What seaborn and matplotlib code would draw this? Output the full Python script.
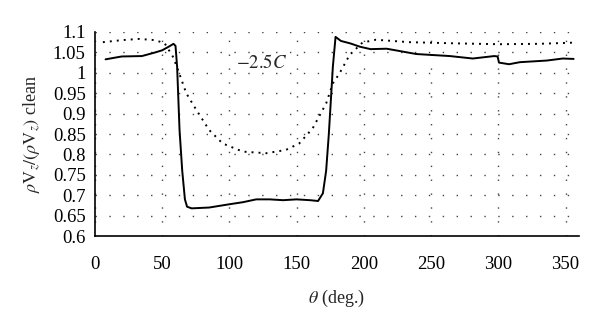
import matplotlib
matplotlib.use("Agg")
import matplotlib.pyplot as plt
import seaborn as sns
import pandas as pd

# Solid curve: normalised mass flux behind the -2.5C rotor configuration
theta_solid = [8, 20, 35, 45, 50, 55, 58.5, 60, 61.2, 63, 65, 67, 68.6, 72, 85,
               100, 110, 120, 130, 140, 150, 160, 166, 169.6, 172, 174, 177,
               179, 183, 190, 197, 205, 217, 239, 264, 281, 297, 299.5, 300.5,
               308, 316, 336, 348, 356]
value_solid = [1.033, 1.040, 1.041, 1.050, 1.055, 1.064, 1.071, 1.066, 1.015,
               0.86, 0.76, 0.69, 0.672, 0.668, 0.670, 0.678, 0.683, 0.690, 0.690,
               0.688, 0.690, 0.688, 0.686, 0.705, 0.76, 0.85, 1.015, 1.088, 1.078,
               1.072, 1.064, 1.058, 1.059, 1.046, 1.041, 1.035, 1.041, 1.040,
               1.025, 1.021, 1.026, 1.030, 1.035, 1.034]

# Dotted curve: clean-configuration reference profile
theta_dot = [6, 20, 33, 45, 52, 58, 61, 68, 75.5, 85, 95, 110, 127.5, 142,
             152, 162, 172, 177, 182, 189.5, 199, 209, 234, 270, 301, 330, 357]
value_dot = [1.075, 1.080, 1.083, 1.080, 1.072, 1.040, 1.015, 0.950, 0.909,
             0.860, 0.827, 0.807, 0.803, 0.811, 0.827, 0.864, 0.925, 0.974,
             0.999, 1.044, 1.074, 1.081, 1.075, 1.072, 1.070, 1.071, 1.074]

x_ticks = [0, 50, 100, 150, 200, 250, 300, 350]
y_ticks = [0.6, 0.65, 0.7, 0.75, 0.8, 0.85, 0.9, 0.95, 1.0, 1.05, 1.1]
y_tick_labels = ["0.6", "0.65", "0.7", "0.75", "0.8", "0.85", "0.9", "0.95",
                 "1", "1.05", "1.1"]

sns.set_style("white")
plt.rcParams["font.family"] = ["Liberation Serif", "DejaVu Serif"]
plt.rcParams["mathtext.fontset"] = "stix"

fig = plt.figure(figsize=(6, 3.23), dpi=100)
ax = fig.add_axes([0.158, 0.269, 0.807, 0.632])

df_solid = pd.DataFrame({"theta": theta_solid, "value": value_solid})
df_dot = pd.DataFrame({"theta": theta_dot, "value": value_dot})

sns.lineplot(data=df_dot, x="theta", y="value", ax=ax, color="black",
             linewidth=1.4, linestyle=(0, (1, 2.6)), sort=False)
sns.lineplot(data=df_solid, x="theta", y="value", ax=ax, color="black",
             linewidth=1.4, sort=False)

ax.set_xlim(0, 360)
ax.set_ylim(0.6, 1.1)
ax.set_xticks(x_ticks)
ax.set_yticks(y_ticks)
ax.set_yticklabels(y_tick_labels)

ax.grid(True, color="#444444", linestyle=(0, (1, 9)), linewidth=1.0)
ax.set_axisbelow(True)

for side in ["top", "right"]:
    ax.spines[side].set_visible(False)
for side in ["left", "bottom"]:
    ax.spines[side].set_color("black")
    ax.spines[side].set_linewidth(1.2)

ax.tick_params(axis="both", width=1.1, colors="black", labelsize=13.5)
ax.tick_params(axis="x", direction="out", length=4, pad=10)
ax.tick_params(axis="y", direction="inout", length=7, pad=3)

ax.set_xlabel(r"$\theta$ (deg.)", fontsize=13, labelpad=11)
ax.set_ylabel(r"$\rho\mathrm{V}_z/(\rho\mathrm{V}_z)$ clean", fontsize=13,
              labelpad=7)

ax.text(124, 1.024, r"$-2.5C$", fontsize=13.5, ha="center", va="center")

fig.savefig("out.png", dpi=100)
